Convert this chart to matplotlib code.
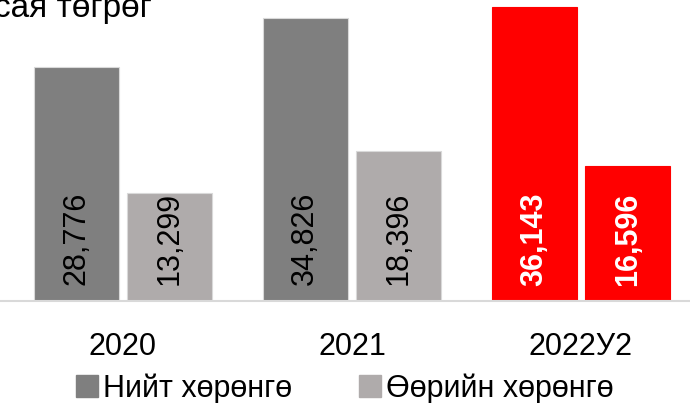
import numpy as np
import matplotlib.pyplot as plt

plt.rcParams['font.family'] = ['Liberation Sans', 'DejaVu Sans']

# өгөгдөл
years = ["2020", "2021", "2022У2"]
total_assets = [28776, 34826, 36143]
equity = [13299, 18396, 16596]
series_names = ["Нийт хөрөнгө", "Өөрийн хөрөнгө"]
unit = "сая төгрөг"

dark = "#7f7f7f"
light = "#afabab"
red = "#ff0000"

fig = plt.figure(figsize=(6.9, 4.03), dpi=100)
ax = fig.add_axes([0, 0.2531, 1, 0.7469])

x = np.arange(len(years))
w = 0.371
off = 0.205

c1 = [dark, dark, red]
c2 = [light, light, red]
b1 = ax.bar(x - off, total_assets, w, color=c1, edgecolor="#d9d9d9", linewidth=0.8, label=series_names[0])
b2 = ax.bar(x + off, equity, w, color=c2, edgecolor="#d9d9d9", linewidth=0.8, label=series_names[1])
# улаан багана дээр хүрээ хэрэггүй
b1[2].set_edgecolor(red)
b2[2].set_edgecolor(red)

# баганын доторх утгууд
for i in range(len(years)):
    for xx, v in [(x[i] - off, total_assets[i]), (x[i] + off, equity[i])]:
        if i == 2:
            ax.text(xx, 1800, f"{v:,}", rotation=90, ha="center", va="bottom",
                    fontsize=22, color="white", fontweight="bold")
        else:
            ax.text(xx, 2000, f"{v:,}", rotation=90, ha="center", va="bottom",
                    fontsize=22, color="black")

ax.set_xlim(-0.537, 2.476)
ax.set_ylim(0, 37000)
ax.set_xticks(x)
ax.set_xticklabels(years, fontsize=22)
ax.tick_params(axis="x", length=0, pad=22)
ax.set_yticks([])
for s in ["top", "left", "right"]:
    ax.spines[s].set_visible(False)
ax.spines["bottom"].set_color("#d9d9d9")
ax.spines["bottom"].set_linewidth(1.5)

# нэгж (дээд талдаа тасарсан)
fig.text(-0.008, 1 - 17 / 403, unit, fontsize=24, ha="left", va="baseline")

h1 = plt.Rectangle((0, 0), 1, 1, color=dark)
h2 = plt.Rectangle((0, 0), 1, 1, color=light)
fig.legend([h1, h2], series_names, loc="lower center", bbox_to_anchor=(0.5, -0.07),
           ncol=2, frameon=False, fontsize=22, handlelength=0.72, handleheight=0.72,
           handletextpad=0.15, columnspacing=2.2)

plt.savefig("out.png")
